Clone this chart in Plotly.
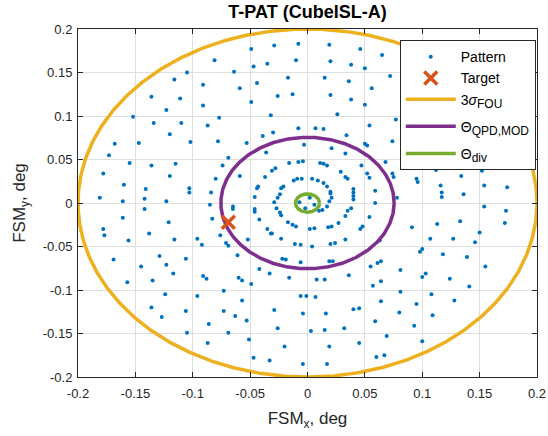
import numpy as np
import plotly.graph_objects as go

# ---- data ----
pattern_x = [
    -0.105, -0.116, -0.136, -0.111, -0.123, -0.152, -0.134, -0.110, -0.120, -0.168, -0.147, -0.102,
    -0.008, -0.029, -0.049, -0.081, -0.010, -0.035, -0.047, -0.064, -0.017, -0.091, -0.044, -0.059,
    -0.013, -0.026, -0.049, -0.091, -0.032, -0.077, -0.087, -0.008, -0.030, -0.039, -0.078, -0.053, -0.003,
    0.019, 0.046, 0.065, 0.020, 0.038, 0.050, 0.015, 0.036, 0.072, 0.056, 0.020, 0.038, 0.050, 0.026,
    0.077, 0.054, 0.007, 0.014, 0.034, 0.074, 0.050, 0.052,
    -0.173, -0.155, -0.136, -0.115, -0.178, -0.120, -0.160, -0.141, -0.103, -0.103, -0.181, -0.161,
    -0.142, -0.123, -0.142, -0.161, -0.121, -0.178, -0.138, -0.177, -0.156, -0.116, -0.129, -0.169, -0.106,
    -0.145, -0.123, -0.117, -0.157, -0.135, -0.124, -0.136, -0.127, -0.106, -0.105,
    -0.006, -0.042, -0.033, -0.016, -0.091, -0.088, -0.060, -0.057, -0.049, -0.096, -0.073, -0.057,
    -0.006, -0.001, -0.073, -0.063, -0.053, -0.029, -0.004, -0.086, -0.069, -0.026, -0.087, -0.051,
    -0.020, -0.047, -0.033, -0.004,
    0.019, 0.022, 0.055, 0.061, 0.064, 0.081, 0.008, 0.015, 0.036, 0.100, 0.057, 0.064, 0.007, 0.081,
    0.064, 0.095, 0.016, 0.040, 0.045, 0.080, 0.059, 0.093, 0.003, 0.015, 0.032, 0.069, 0.019, 0.045,
    0.100, 0.060, 0.067, 0.017,
    0.155, 0.103, 0.124, 0.141, 0.108, 0.128, 0.109,
    0.112, 0.152, 0.134, 0.116, 0.154, 0.174, 0.117, 0.117, 0.136, 0.154, 0.173, 0.113, 0.133, 0.172,
    0.150, 0.107, 0.127, 0.146, 0.100, 0.098, 0.118, 0.139,
    -0.036, -0.069, -0.074, -0.059, -0.080, -0.084, -0.085, -0.065, -0.065, -0.083, -0.076, -0.096,
    -0.092, -0.071, -0.069, -0.061, -0.052, -0.046, -0.046, -0.042, -0.044, -0.043, -0.046, -0.031,
    -0.028, -0.037, -0.016, -0.008, -0.004, -0.009, -0.012, -0.005, -0.021, -0.023, -0.024, -0.026,
    -0.029, -0.027, -0.024, -0.023, -0.017, -0.013, -0.010, -0.035, -0.032, -0.031, -0.023, -0.022,
    -0.019, -0.011, -0.006,
    0.021, 0.033, 0.011, 0.014, 0.017, 0.029, 0.033, 0.035, 0.047, 0.068, 0.052, 0.054, 0.074, 0.075,
    0.004, 0.009, 0.014, 0.017, 0.020, 0.020, 0.021, 0.019, 0.017, 0.013, 0.010, 0.040, 0.040, 0.040,
    0.040, 0.038, 0.035, 0.033, 0.027, 0.021, 0.018, 0.006, 0.002, 0.059, 0.059, 0.078, 0.054, 0.048,
    0.046, 0.033, 0.024, 0.020, 0.004, 0.063, 0.091, 0.095, 0.096,
    -0.007, 0.002, 0.006, -0.002,
]
pattern_y = [
    0.150, 0.142, 0.122, 0.120, 0.107, 0.099, 0.092, 0.092, 0.079, 0.068, 0.069, 0.070,
    0.183, 0.181, 0.177, 0.164, 0.164, 0.160, 0.157, 0.151, 0.144, 0.136, 0.138, 0.132,
    0.125, 0.123, 0.116, 0.112, 0.101, 0.098, 0.089, 0.086, 0.081, 0.077, 0.071, 0.069, 0.067,
    0.182, 0.177, 0.170, 0.163, 0.159, 0.155, 0.144, 0.140, 0.146, 0.132, 0.124, 0.119, 0.113, 0.102,
    0.096, 0.089, 0.086, 0.085, 0.078, 0.071, 0.068, 0.066,
    0.055, 0.046, 0.043, 0.045, 0.034, 0.031, 0.021, 0.016, 0.017, 0.012, 0.006, 0.002,
    0.005, 0.002, -0.007, -0.017, -0.022, -0.030, -0.035, -0.037, -0.043, -0.042, -0.061, -0.065, -0.064,
    -0.073, -0.071, -0.081, -0.091, -0.089, -0.105, -0.120, -0.131, -0.124, -0.149,
    -0.068, -0.076, -0.081, -0.086, -0.084, -0.087, -0.086, -0.089, -0.093, -0.107, -0.101, -0.112,
    -0.107, -0.107, -0.124, -0.130, -0.135, -0.123, -0.127, -0.139, -0.149, -0.144, -0.161, -0.157,
    -0.165, -0.178, -0.181, -0.185,
    -0.067, -0.067, -0.073, -0.069, -0.067, -0.077, -0.088, -0.088, -0.083, -0.085, -0.095, -0.090, -0.108, -0.102,
    -0.113, -0.116, -0.127, -0.122, -0.121, -0.126, -0.136, -0.141, -0.147, -0.146, -0.144, -0.153, -0.165, -0.161,
    -0.159, -0.177, -0.175, -0.185,
    -0.073, -0.081, -0.087, -0.096, -0.105, -0.112, -0.129,
    0.038, 0.037, 0.031, 0.020, 0.020, 0.018, 0.012, 0.007, 0.010, -0.004, -0.009, -0.024, -0.021, -0.023,
    -0.034, -0.041, -0.041, -0.045, -0.053, -0.056, -0.059, -0.062,
    0.058, 0.052, 0.043, 0.031, 0.028, 0.012, -0.002, -0.004, -0.007, -0.018, -0.037, -0.041,
    -0.048, -0.046, -0.049, -0.060, -0.042, -0.007, -0.010, -0.019, 0.017, 0.019, 0.007, 0.037,
    0.040, 0.030, 0.046, 0.047, 0.048, 0.028, 0.026, 0.028, 0.019, 0.017, 0.010, 0.006,
    0.001, -0.006, -0.011, -0.014, -0.022, -0.025, -0.027, -0.030, -0.035, -0.035, -0.041, -0.064,
    -0.065, -0.047, -0.048,
    0.063, 0.057, 0.046, 0.045, 0.043, 0.036, 0.030, 0.028, 0.043, 0.047, 0.034, 0.029, 0.034, 0.030,
    0.028, 0.026, 0.023, 0.019, 0.013, 0.011, 0.006, 0.002, -0.004, -0.008, -0.009, 0.016, 0.012, 0.008,
    0.004, -0.006, -0.009, -0.015, -0.023, -0.027, -0.028, -0.029, -0.030, 0.014, 0.000, 0.006, -0.016, -0.027,
    -0.030, -0.042, -0.046, -0.047, -0.050, -0.043, -0.028, 0.028, 0.024,
    0.001, 0.006, -0.002, -0.006,
]

target_x = [-0.069]
target_y = [-0.022]

radius_fou = 0.2      # 3 sigma FOU
radius_qpd = 0.0755   # Theta QPD,MOD
radius_div = 0.0105   # Theta div

x_ticks = [-0.2, -0.15, -0.1, -0.05, 0, 0.05, 0.1, 0.15, 0.2]
y_ticks = [-0.2, -0.15, -0.1, -0.05, 0, 0.05, 0.1, 0.15, 0.2]
x_ticklabels = ["-0.2", "-0.15", "-0.1", "-0.05", "0", "0.05", "0.1", "0.15", "0.2"]
y_ticklabels = ["-0.2", "-0.15", "-0.1", "-0.05", "0", "0.05", "0.1", "0.15", "0.2"]

# ---- figure ----
FONT = "Liberation Sans, Arial, Helvetica, sans-serif"
theta = np.linspace(0, 2 * np.pi, 721)
SUB = '<sub><span style="font-size:12px">{}</span></sub>'

fig = go.Figure()
fig.add_trace(go.Scatter(
    x=pattern_x, y=pattern_y, mode="markers", name="Pattern",
    marker=dict(color="#0072BD", size=4, line=dict(width=0)),
    legendrank=1, legendgroup="a"))

for r, color, name, rank, grp in [
    (radius_fou, "#EDB120", "3<i>σ</i>" + SUB.format("FOU"), 3, "a"),
    (radius_qpd, "#7E2F8E", "Θ" + SUB.format("QPD,MOD"), 4, "b"),
    (radius_div, "#77AC30", "Θ" + SUB.format("div"), 5, "c"),
]:
    fig.add_trace(go.Scatter(
        x=r * np.cos(theta), y=r * np.sin(theta), mode="lines", name=name,
        line=dict(color=color, width=3.5), legendrank=rank, legendgroup=grp))

fig.add_trace(go.Scatter(
    x=target_x, y=target_y, mode="markers", name="Target",
    marker=dict(symbol="x-thin", size=13, color="#D95319",
                line=dict(color="#D95319", width=3.5)),
    legendrank=2, legendgroup="a"))

axis_common = dict(
    showline=True, linecolor="#262626", linewidth=1, mirror="ticks",
    ticks="inside", ticklen=5, tickcolor="#262626", tickwidth=1,
    showgrid=True, gridcolor="#dfdfdf", gridwidth=1, zeroline=False,
    tickfont=dict(family=FONT, size=13, color="#262626"),
    automargin=False,
)

fig.update_layout(
    width=548, height=436,
    margin=dict(l=78, r=11, t=29, b=59),
    paper_bgcolor="white", plot_bgcolor="white",
    showlegend=True,
    title=dict(text="<b>T-PAT (CubeISL-A)</b>", x=0.5, xref="paper", xanchor="center",
               y=1 - 12 / 436, yref="container", yanchor="middle",
               font=dict(family=FONT, size=18, color="black")),
    xaxis=dict(range=[-0.2, 0.2], tickvals=x_ticks, ticktext=x_ticklabels,
               ticklabelstandoff=4,
               title=dict(text="FSM<sub>x</sub>, deg", font=dict(family=FONT, size=17, color="#262626"),
                          standoff=12),
               **axis_common),
    yaxis=dict(range=[-0.2, 0.2], tickvals=y_ticks, ticktext=y_ticklabels,
               ticklabelstandoff=2,
               title=dict(text="FSM<sub>y</sub>, deg", font=dict(family=FONT, size=17, color="#262626"),
                          standoff=12),
               **axis_common),
    legend=dict(x=0.701, y=0.968, xanchor="left", yanchor="top",
                bgcolor="white", bordercolor="#262626", borderwidth=1,
                font=dict(family=FONT, size=14, color="black"),
                traceorder="grouped", tracegroupgap=6, itemwidth=50),
)

fig.write_html("out.html")
